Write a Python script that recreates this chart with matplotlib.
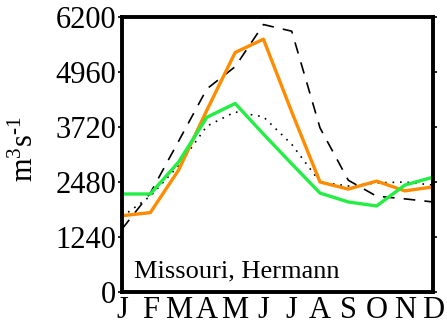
import matplotlib
matplotlib.use("Agg")
import matplotlib.pyplot as plt

plt.rcParams['font.family'] = ['Liberation Serif', 'DejaVu Serif']
plt.rcParams['mathtext.fontset'] = 'custom'
plt.rcParams['mathtext.rm'] = 'Liberation Serif'
plt.rcParams['mathtext.it'] = 'Liberation Serif'

months = ['J', 'F', 'M', 'A', 'M', 'J', 'J', 'A', 'S', 'O', 'N', 'D']
yticks = [0, 1240, 2480, 3720, 4960, 6200]

# monthly discharge, m3/s
orange = [1720, 1790, 2750, 4100, 5400, 5700, 4060, 2480, 2320, 2500, 2280, 2370]
green = [2210, 2210, 2930, 3940, 4250, 3560, 2890, 2230, 2030, 1940, 2410, 2590]
dashed = [1420, 2230, 3400, 4580, 5080, 6030, 5880, 3700, 2520, 2160, 2100, 2030]
dotted = [1700, 2160, 2850, 3740, 4060, 3950, 3330, 2480, 2390, 2460, 2480, 2410]

station = "Missouri, Hermann"

fig = plt.figure(figsize=(4.47, 3.27), dpi=100)
ax = fig.add_axes([0.273, 0.107, 0.696, 0.841])

x = range(len(months))
ax.plot(x, dashed, color='black', lw=1.2, linestyle=(0, (7, 5.5)))
ax.plot(x, dotted, color='black', lw=1.2, linestyle=(0, (1, 3.5)))
ax.plot(x, orange, color='#ff8c00', lw=2.4)
ax.plot(x, green, color='#22ee44', lw=2.4)

ax.set_xlim(0, 11)
ax.set_ylim(0, 6200)

ax.set_xticks(list(x))
ax.set_xticklabels(months, fontsize=22)
ax.set_xticks([1, 3, 5, 7, 9, 11], minor=True)
ax.tick_params(axis='x', which='major', length=0, pad=3)
ax.tick_params(axis='x', which='minor', length=3, width=1.2, direction='out',
               top=True, bottom=True)

ax.set_yticks(yticks)
ax.set_yticklabels([str(v) for v in yticks], fontsize=22)
ax.tick_params(axis='y', which='major', length=3, width=1.2, direction='out',
               left=True, right=True, pad=1)

for s in ax.spines.values():
    s.set_linewidth(2.8)

ax.set_ylabel(r'm$^{\mathrm{3}}$s$^{\text{-1}}$', fontsize=22)
ax.yaxis.set_label_coords(-0.265, 0.52)

ax.text(0.04, 0.035, station, transform=ax.transAxes, fontsize=19,
        ha='left', va='bottom')

fig.savefig('out.png', dpi=100)
